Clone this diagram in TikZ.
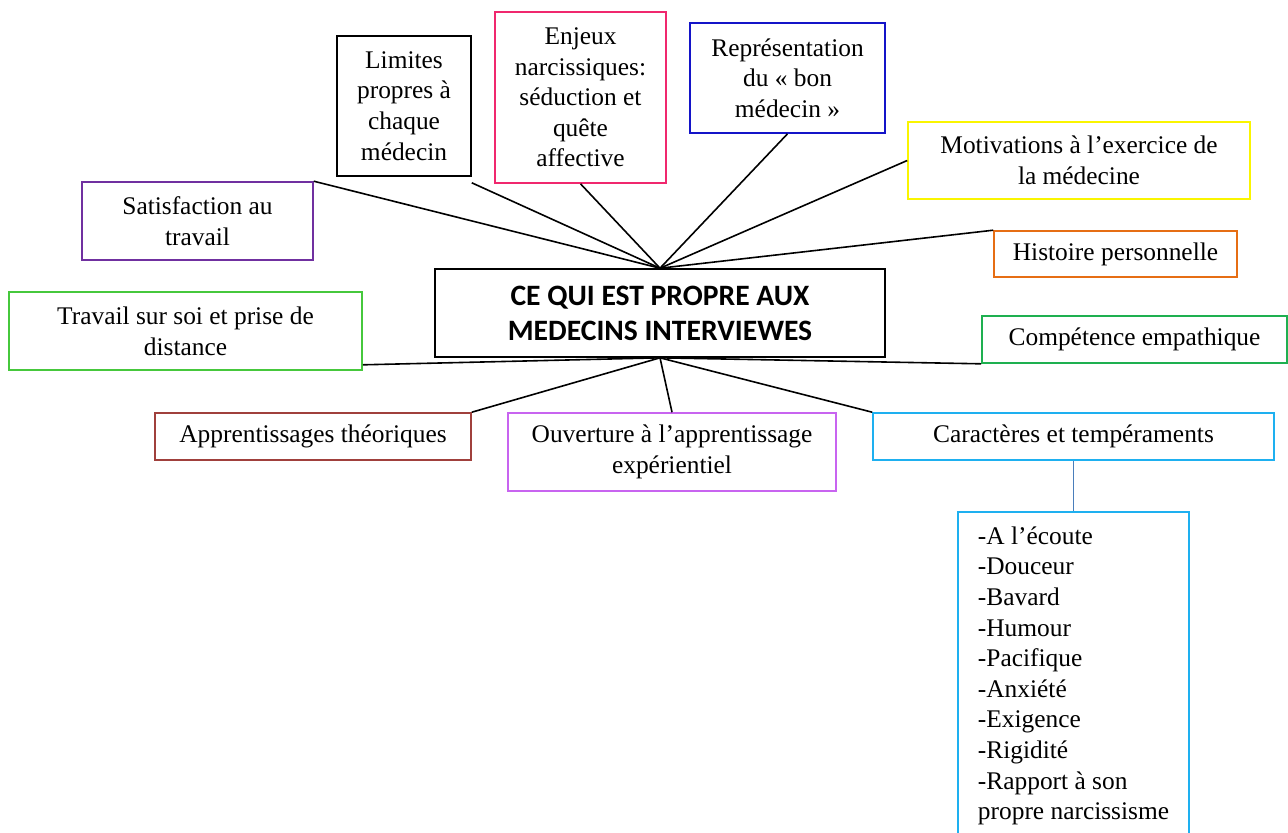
\documentclass[tikz,border=0pt]{standalone}
\usepackage{fontspec}
\setmainfont{Liberation Serif}
\newfontfamily\calibri{Carlito}
\definecolor{pinkbox}{RGB}{240,40,110}
\definecolor{bluebox}{RGB}{20,20,200}
\definecolor{yellowbox}{RGB}{250,245,0}
\definecolor{orangebox}{RGB}{230,110,20}
\definecolor{greenbox}{RGB}{30,176,80}
\definecolor{lightgreenbox}{RGB}{70,200,60}
\definecolor{purplebox}{RGB}{112,48,160}
\definecolor{redbox}{RGB}{160,64,60}
\definecolor{violetbox}{RGB}{200,100,240}
\definecolor{cyanbox}{RGB}{30,176,240}
\definecolor{steelline}{RGB}{74,126,187}
\tikzset{
	box/.style={draw, line width=0.8pt, inner sep=0pt, align=center, font=\fontsize{12.7}{15.3}\selectfont},
	link/.style={line width=0.8pt}
}

\begin{document}
\begin{tikzpicture}[x=0.5pt, y=-0.5pt]
		\clip (0, 0) rectangle (1288, 832);
		\fill[white] (0, 0) rectangle (1288, 832);
		\node[box, minimum width=225pt, minimum height=44pt, font=\calibri\bfseries\fontsize{14.8}{17.5}\selectfont] (cen) at (660, 313) {CE QUI EST PROPRE AUX\\MEDECINS INTERVIEWES};
		\node[box, minimum width=67pt, minimum height=70pt] (lim) at (404, 106) {Limites\\propres à\\chaque\\médecin};
		\node[box, draw=pinkbox, minimum width=85.5pt, minimum height=85.5pt] (enj) at (580.5, 97.5) {Enjeux\\narcissiques:\\séduction et\\quête\\affective};
		\node[box, draw=bluebox, minimum width=97.5pt, minimum height=55pt] (rep) at (787.5, 78) {Représentation\\du « bon\\médecin »};
		\node[box, draw=yellowbox, minimum width=171pt, minimum height=38.5pt] (mot) at (1079, 160.5) {Motivations à l’exercice de\\la médecine};
		\node[box, draw=purplebox, minimum width=115.5pt, minimum height=39pt] (sat) at (197.5, 221) {Satisfaction au\\travail};
		\node[box, draw=orangebox, minimum width=121.5pt, minimum height=23pt] (his) at (1115.5, 254) {Histoire personnelle};
		\node[box, draw=lightgreenbox, minimum width=176.5pt, minimum height=39pt] (tra) at (185.5, 331) {Travail sur soi et prise de\\distance};
		\node[box, draw=greenbox, minimum width=152.5pt, minimum height=23.5pt] (com) at (1134.5, 339.5) {Compétence empathique};
		\node[box, draw=redbox, minimum width=158pt, minimum height=23.5pt] (app) at (313, 436.5) {Apprentissages théoriques};
		\node[box, draw=violetbox, minimum width=164pt, minimum height=39pt] (ouv) at (672, 452) {Ouverture à l’apprentissage\\expérientiel};
		\node[box, draw=cyanbox, minimum width=200.5pt, minimum height=23.5pt] (car) at (1073.5, 436.5) {Caractères et tempéraments};
		\node[box, draw=cyanbox, align=left, anchor=north, minimum width=115.5pt, minimum height=164pt] (lst) at (1073.5, 511) {-A l’écoute\\-Douceur\\-Bavard\\-Humour\\-Pacifique\\-Anxiété\\-Exigence\\-Rigidité\\-Rapport à son\\propre narcissisme};
		\draw[link] (cen.north) -- (sat.north east);
		\draw[link] (cen.north) -- ([yshift=-3pt]lim.south east);
		\draw[link] (cen.north) -- (enj.south);
		\draw[link] (cen.north) -- (rep.south);
		\draw[link] (cen.north) -- (mot.west);
		\draw[link] (cen.north) -- (his.north west);
		\draw[link] (cen.south) -- ([yshift=3pt]tra.south east);
		\draw[link] (cen.south) -- (app.north east);
		\draw[link] (cen.south) -- (ouv.north);
		\draw[link] (cen.south) -- (car.north west);
		\draw[link] (cen.south) -- (com.south west);
		\draw[steelline, line width=0.6pt] (car.south) -- (lst.north);
	\end{tikzpicture}
\end{document}
